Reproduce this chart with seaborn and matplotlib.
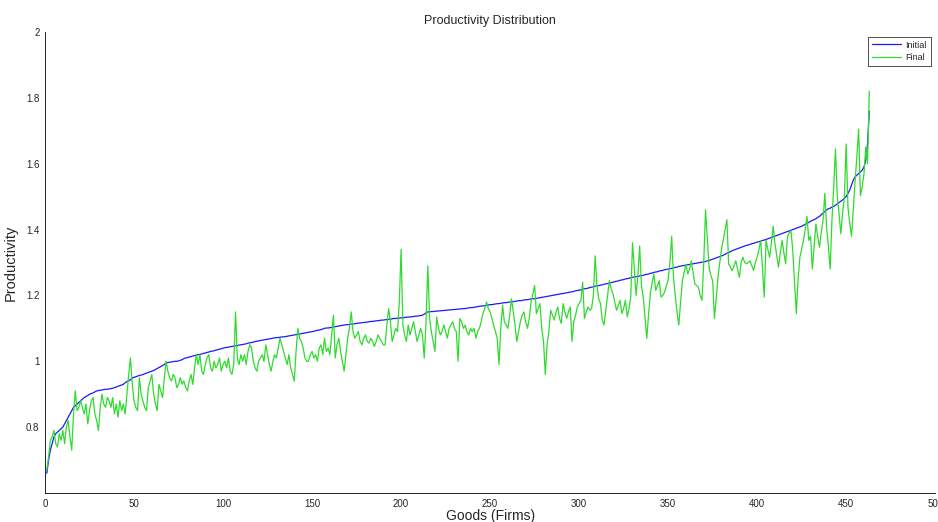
import numpy as np
import pandas as pd
import matplotlib
matplotlib.use("Agg")
import matplotlib.pyplot as plt
import seaborn as sns

# productivity per good, sorted by initial productivity
initial_prod = [
    0.66, 0.70, 0.73, 0.75, 0.77, 0.78, 0.785, 0.79, 0.795, 0.80,
    0.81, 0.82, 0.83, 0.84, 0.85, 0.86, 0.865, 0.87, 0.875, 0.88,
    0.885, 0.89, 0.893, 0.896, 0.90, 0.902, 0.904, 0.907, 0.91, 0.911,
    0.912, 0.913, 0.914, 0.915, 0.915, 0.916, 0.917, 0.918, 0.92, 0.922,
    0.924, 0.926, 0.928, 0.93, 0.935, 0.938, 0.941, 0.944, 0.95, 0.951,
    0.953, 0.955, 0.957, 0.958, 0.96, 0.962, 0.964, 0.966, 0.968, 0.97,
    0.972, 0.975, 0.978, 0.981, 0.984, 0.987, 0.99, 0.995, 0.996, 0.997,
    0.998, 0.999, 1.0, 1.0, 1.001, 1.003, 1.005, 1.008, 1.01, 1.011,
    1.013, 1.014, 1.016, 1.017, 1.019, 1.02, 1.021, 1.022, 1.024, 1.025,
    1.027, 1.028, 1.03, 1.031, 1.032, 1.034, 1.035, 1.037, 1.038, 1.04,
    1.041, 1.042, 1.043, 1.044, 1.045, 1.046, 1.047, 1.048, 1.049, 1.05,
    1.051, 1.052, 1.053, 1.055, 1.056, 1.057, 1.058, 1.06, 1.061, 1.062,
    1.063, 1.064, 1.065, 1.066, 1.067, 1.068, 1.069, 1.07, 1.071, 1.072,
    1.072, 1.073, 1.074, 1.074, 1.075, 1.076, 1.077, 1.078, 1.079, 1.08,
    1.081, 1.082, 1.083, 1.084, 1.085, 1.086, 1.087, 1.088, 1.089, 1.09,
    1.091, 1.093, 1.094, 1.095, 1.096, 1.098, 1.10, 1.101, 1.101, 1.102,
    1.103, 1.104, 1.105, 1.106, 1.107, 1.108, 1.109, 1.11, 1.111, 1.111,
    1.112, 1.113, 1.113, 1.114, 1.115, 1.116, 1.116, 1.117, 1.118, 1.118,
    1.119, 1.12, 1.121, 1.121, 1.122, 1.123, 1.123, 1.124, 1.125, 1.125,
    1.126, 1.127, 1.127, 1.128, 1.129, 1.13, 1.13, 1.131, 1.131, 1.132,
    1.132, 1.133, 1.134, 1.134, 1.135, 1.135, 1.136, 1.137, 1.137, 1.138,
    1.139, 1.14, 1.143, 1.147, 1.15, 1.15, 1.151, 1.151, 1.152, 1.152,
    1.153, 1.153, 1.154, 1.154, 1.155, 1.155, 1.156, 1.156, 1.157, 1.157,
    1.158, 1.158, 1.159, 1.159, 1.16, 1.16, 1.161, 1.162, 1.163, 1.163,
    1.164, 1.165, 1.166, 1.167, 1.168, 1.168, 1.169, 1.17, 1.171, 1.172,
    1.172, 1.173, 1.174, 1.175, 1.175, 1.176, 1.177, 1.178, 1.178, 1.179,
    1.18, 1.181, 1.181, 1.182, 1.183, 1.184, 1.184, 1.185, 1.186, 1.187,
    1.187, 1.188, 1.189, 1.19, 1.19, 1.191, 1.192, 1.193, 1.194, 1.195,
    1.196, 1.197, 1.198, 1.199, 1.20, 1.201, 1.202, 1.203, 1.204, 1.205,
    1.206, 1.207, 1.208, 1.209, 1.21, 1.211, 1.212, 1.214, 1.215, 1.216,
    1.217, 1.219, 1.22, 1.221, 1.222, 1.224, 1.225, 1.226, 1.228, 1.229,
    1.23, 1.231, 1.232, 1.234, 1.235, 1.236, 1.238, 1.239, 1.24, 1.242,
    1.243, 1.244, 1.246, 1.247, 1.248, 1.25, 1.251, 1.252, 1.254, 1.255,
    1.256, 1.257, 1.258, 1.259, 1.26, 1.261, 1.263, 1.264, 1.265, 1.267,
    1.268, 1.27, 1.271, 1.272, 1.274, 1.275, 1.276, 1.278, 1.279, 1.28,
    1.281, 1.282, 1.284, 1.285, 1.286, 1.288, 1.289, 1.29, 1.291, 1.292,
    1.293, 1.294, 1.295, 1.296, 1.297, 1.298, 1.299, 1.30, 1.301, 1.302,
    1.303, 1.305, 1.306, 1.308, 1.31, 1.312, 1.314, 1.316, 1.318, 1.32,
    1.322, 1.325, 1.328, 1.33, 1.333, 1.336, 1.338, 1.34, 1.342, 1.344,
    1.346, 1.348, 1.35, 1.352, 1.353, 1.355, 1.357, 1.358, 1.36, 1.362,
    1.363, 1.365, 1.367, 1.368, 1.37, 1.372, 1.374, 1.376, 1.378, 1.38,
    1.382, 1.384, 1.386, 1.388, 1.39, 1.392, 1.394, 1.396, 1.398, 1.40,
    1.402, 1.404, 1.406, 1.408, 1.41, 1.413, 1.416, 1.419, 1.422, 1.425,
    1.428, 1.43, 1.433, 1.437, 1.44, 1.445, 1.45, 1.455, 1.46, 1.463,
    1.465, 1.468, 1.47, 1.474, 1.478, 1.482, 1.486, 1.49, 1.495, 1.50,
    1.51, 1.52, 1.535, 1.55, 1.56, 1.565, 1.57, 1.575, 1.58, 1.59,
    1.61, 1.66, 1.76,
]

final_prod = [
    0.67, 0.71, 0.76, 0.77, 0.79, 0.75, 0.74, 0.78, 0.76, 0.79,
    0.75, 0.80, 0.82, 0.77, 0.73, 0.84, 0.91, 0.85, 0.86, 0.88,
    0.86, 0.84, 0.87, 0.81, 0.85, 0.88, 0.89, 0.84, 0.82, 0.79,
    0.86, 0.90, 0.87, 0.86, 0.89, 0.88, 0.86, 0.89, 0.84, 0.87,
    0.83, 0.88, 0.85, 0.87, 0.84, 0.90, 0.96, 1.01, 0.93, 0.88,
    0.86, 0.85, 0.95, 0.90, 0.88, 0.86, 0.85, 0.92, 0.94, 0.96,
    0.90, 0.87, 0.85, 0.93, 0.91, 0.89, 0.95, 1.00, 0.97, 0.95,
    0.94, 0.96, 0.95, 0.92, 0.93, 0.95, 0.93, 0.94, 0.92, 0.91,
    0.94, 0.96, 0.93, 0.98, 1.02, 0.99, 1.02, 0.97, 0.96, 0.99,
    1.01, 1.02, 0.98, 0.97, 1.00, 0.98, 0.99, 1.01, 0.97, 0.99,
    1.00, 0.98, 1.01, 0.97, 0.96, 0.99, 1.15, 1.01, 0.99, 1.02,
    1.00, 1.02, 0.99, 1.03, 1.05, 1.04, 1.00, 0.98, 0.97, 1.00,
    1.01, 1.02, 1.00, 1.05, 1.02, 0.99, 0.97, 1.00, 1.02, 1.01,
    1.04, 1.07, 1.05, 1.03, 1.01, 0.99, 1.02, 0.98, 0.96, 0.94,
    1.03, 1.10, 1.07, 1.06, 1.04, 1.01, 1.00, 1.00, 1.02, 1.03,
    1.01, 1.02, 1.00, 1.04, 1.05, 1.02, 1.07, 1.03, 1.04, 1.02,
    1.08, 1.14, 1.01, 1.05, 1.07, 1.03, 1.00, 0.97, 1.02, 1.07,
    1.10, 1.15, 1.09, 1.07, 1.08, 1.09, 1.06, 1.05, 1.07, 1.08,
    1.06, 1.055, 1.07, 1.06, 1.045, 1.06, 1.08, 1.07, 1.06, 1.05,
    1.05, 1.11, 1.16, 1.12, 1.06, 1.08, 1.10, 1.09, 1.18, 1.34,
    1.11, 1.08, 1.06, 1.11, 1.08, 1.10, 1.12, 1.09, 1.06, 1.08,
    1.10, 1.08, 1.01, 1.12, 1.29, 1.13, 1.09, 1.06, 1.03, 1.135,
    1.10, 1.08, 1.09, 1.11, 1.09, 1.07, 1.10, 1.11, 1.12, 1.10,
    1.09, 1.00, 1.13, 1.12, 1.10, 1.11, 1.09, 1.08, 1.10, 1.09,
    1.10, 1.07, 1.09, 1.10, 1.12, 1.145, 1.16, 1.18, 1.16, 1.15,
    1.13, 1.11, 1.09, 1.07, 0.99, 1.10, 1.17, 1.12, 1.11, 1.10,
    1.14, 1.19, 1.15, 1.11, 1.06, 1.09, 1.12, 1.14, 1.15, 1.12,
    1.10, 1.13, 1.18, 1.205, 1.23, 1.145, 1.16, 1.175, 1.10, 1.06,
    0.96, 1.05, 1.09, 1.155, 1.14, 1.125, 1.15, 1.165, 1.13, 1.115,
    1.175, 1.15, 1.13, 1.15, 1.165, 1.06, 1.12, 1.14, 1.165, 1.175,
    1.185, 1.24, 1.13, 1.15, 1.165, 1.155, 1.16, 1.20, 1.32, 1.23,
    1.19, 1.175, 1.125, 1.11, 1.155, 1.20, 1.245, 1.22, 1.205, 1.18,
    1.155, 1.17, 1.185, 1.145, 1.16, 1.185, 1.135, 1.16, 1.195, 1.36,
    1.28, 1.20, 1.26, 1.35, 1.23, 1.195, 1.135, 1.07, 1.14, 1.205,
    1.24, 1.265, 1.215, 1.23, 1.245, 1.195, 1.20, 1.21, 1.23, 1.245,
    1.30, 1.38, 1.255, 1.20, 1.15, 1.11, 1.18, 1.245, 1.27, 1.295,
    1.265, 1.28, 1.305, 1.27, 1.235, 1.23, 1.225, 1.20, 1.185, 1.30,
    1.46, 1.37, 1.285, 1.26, 1.245, 1.13, 1.19, 1.255, 1.30, 1.34,
    1.37, 1.40, 1.43, 1.295, 1.285, 1.275, 1.29, 1.305, 1.28, 1.255,
    1.30, 1.316, 1.30, 1.296, 1.30, 1.305, 1.29, 1.276, 1.30, 1.316,
    1.34, 1.367, 1.28, 1.195, 1.367, 1.34, 1.316, 1.36, 1.41, 1.357,
    1.32, 1.286, 1.33, 1.367, 1.33, 1.296, 1.377, 1.39, 1.397, 1.336,
    1.24, 1.145, 1.25, 1.316, 1.34, 1.367, 1.40, 1.44, 1.367, 1.38,
    1.28, 1.35, 1.417, 1.38, 1.346, 1.39, 1.427, 1.51, 1.407, 1.35,
    1.28, 1.427, 1.53, 1.645, 1.50, 1.448, 1.387, 1.45, 1.498, 1.66,
    1.468, 1.42, 1.38, 1.46, 1.548, 1.62, 1.705, 1.503, 1.53, 1.569,
    1.65, 1.60, 1.82,
]

x_ticks = [0, 50, 100, 150, 200, 250, 300, 350, 400, 450, 500]
y_ticks = [0.8, 1.0, 1.2, 1.4, 1.6, 1.8, 2.0]
y_tick_labels = ["0.8", "1", "1.2", "1.4", "1.6", "1.8", "2"]

sns.set_style("white")
plt.rcParams["font.family"] = ["Liberation Sans", "DejaVu Sans"]


def build_frame():
    init = pd.DataFrame({"good": np.arange(1, len(initial_prod) + 1),
                         "productivity": initial_prod, "series": "Initial"})
    fin = pd.DataFrame({"good": np.arange(1, len(final_prod) + 1),
                        "productivity": final_prod, "series": "Final"})
    return pd.concat([init, fin], ignore_index=True)


def main():
    df = build_frame()
    fig = plt.figure(figsize=(9.38, 5.22), dpi=100)
    ax = fig.add_axes([0.048, 0.0556, 0.949, 0.8831])

    sns.lineplot(data=df, x="good", y="productivity", hue="series",
                 palette={"Initial": "#1a1aff", "Final": "#2edb2e"},
                 linewidth=0.9, ax=ax, legend=True)

    ax.set_xlim(0, 500)
    ax.set_ylim(0.6, 2.0)
    ax.set_xticks(x_ticks)
    ax.set_yticks(y_ticks)
    ax.set_yticklabels(y_tick_labels)
    ax.tick_params(direction="in", length=4, width=0.6, labelsize=7, pad=4)
    for side in ["top", "right"]:
        ax.spines[side].set_visible(False)
    for side in ["left", "bottom"]:
        ax.spines[side].set_linewidth(0.6)
        ax.spines[side].set_color("black")

    ax.set_title("Productivity Distribution", fontsize=9, pad=6)
    ax.set_xlabel("Goods (Firms)", fontsize=10, labelpad=0)
    ax.set_ylabel("Productivity", fontsize=10.5, labelpad=6)

    leg = ax.legend(loc="upper right", fontsize=6.5, frameon=True, fancybox=False,
                    edgecolor="black", handlelength=3.2, borderpad=0.45,
                    labelspacing=0.35, handletextpad=0.5)
    leg.get_frame().set_linewidth(0.6)

    fig.savefig("out.png", dpi=100)
    plt.close(fig)


if __name__ == "__main__":
    main()
